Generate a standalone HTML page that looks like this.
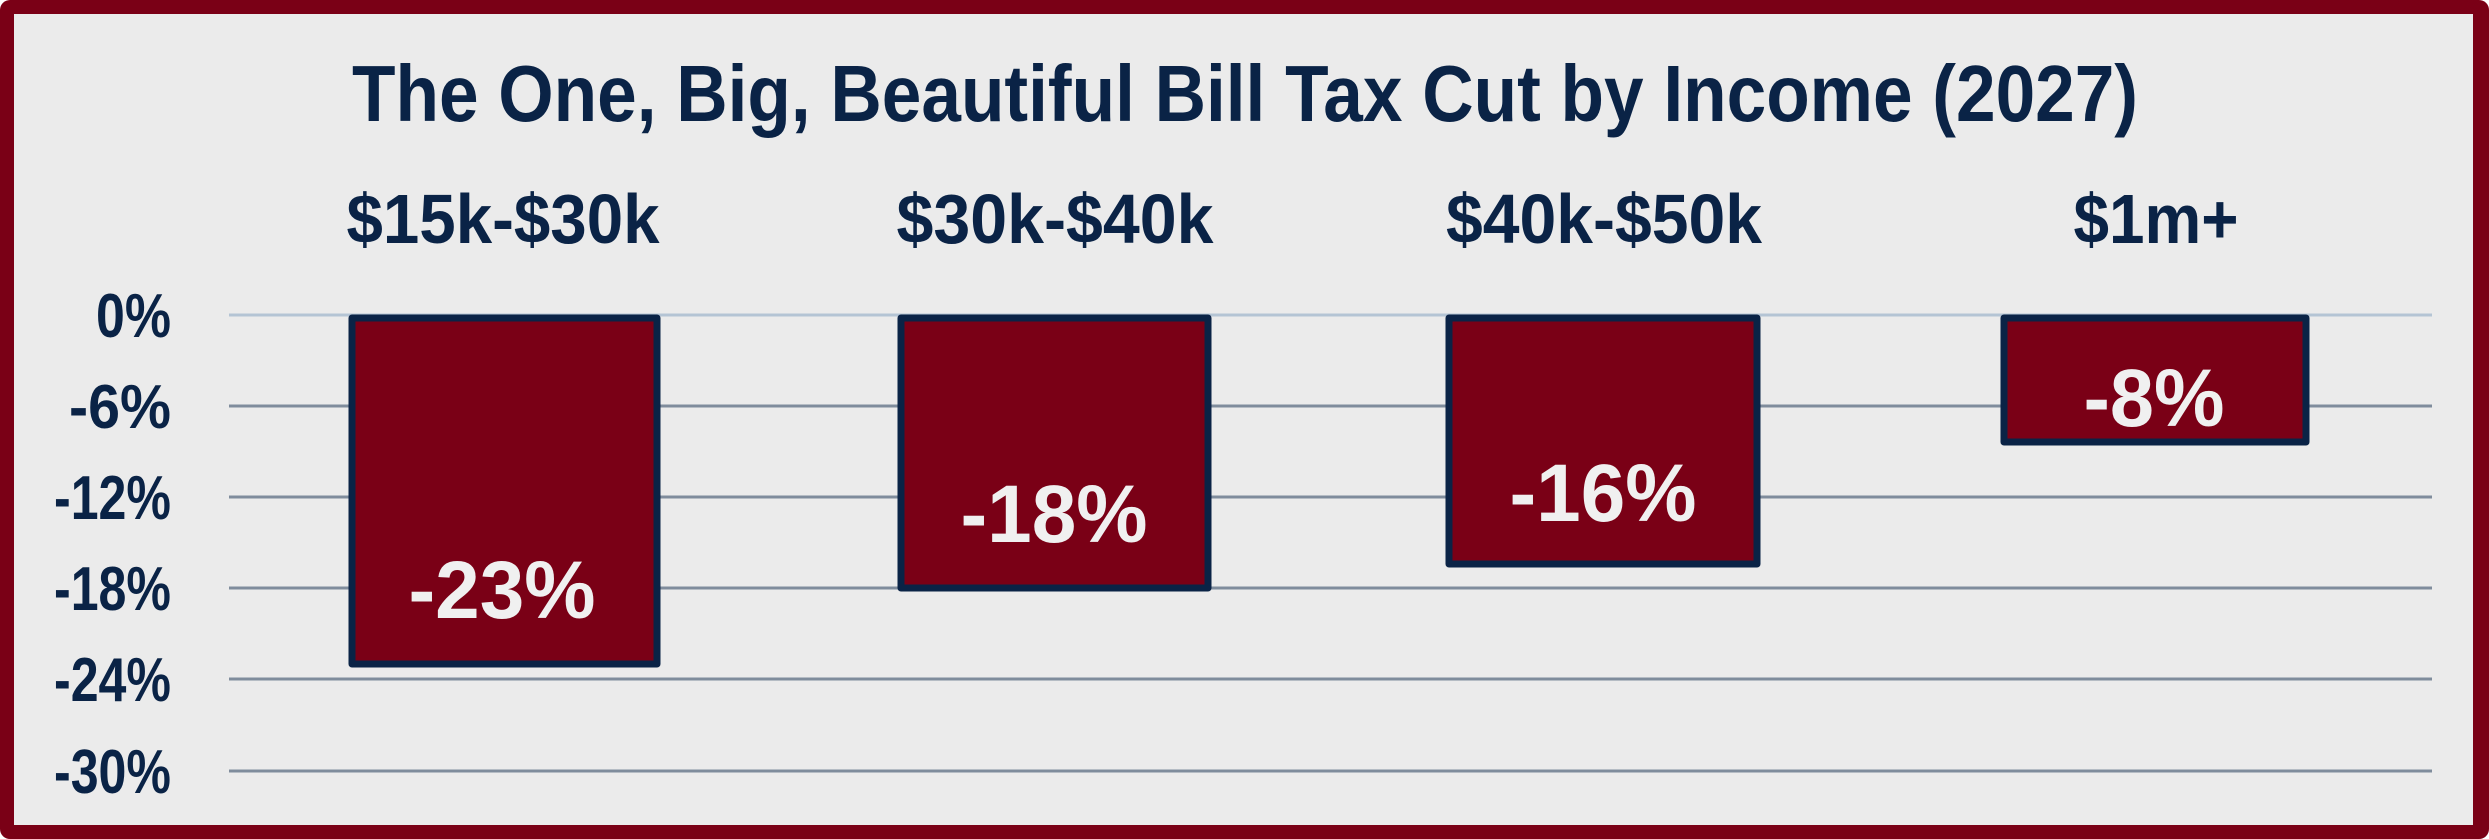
<!DOCTYPE html>
<html><head><meta charset="utf-8"><style>
html,body{margin:0;padding:0;background:#fff;}
svg{display:block;}
text{font-family:"Liberation Sans",sans-serif;font-weight:bold;}
</style></head><body>
<svg width="2489" height="839" viewBox="0 0 2489 839" xmlns="http://www.w3.org/2000/svg">
<rect x="0" y="0" width="2489" height="839" rx="10" fill="#7a0016"/>
<rect x="14" y="14" width="2459" height="811" fill="#ebebeb"/>
<text x="1245" y="121" font-size="80" fill="#0a2346" text-anchor="middle" textLength="1786" lengthAdjust="spacingAndGlyphs">The One, Big, Beautiful Bill Tax Cut by Income (2027)</text>
<g font-size="70" fill="#0a2346" text-anchor="middle">
<text x="503" y="243" textLength="313" lengthAdjust="spacingAndGlyphs">$15k-$30k</text>
<text x="1055" y="243" textLength="317" lengthAdjust="spacingAndGlyphs">$30k-$40k</text>
<text x="1604" y="243" textLength="316" lengthAdjust="spacingAndGlyphs">$40k-$50k</text>
<text x="2156" y="243" textLength="165" lengthAdjust="spacingAndGlyphs">$1m+</text>
</g>
<g stroke-width="3">
<line x1="229" y1="315" x2="2432" y2="315" stroke="#b4c4d4"/>
<line x1="229" y1="406" x2="2432" y2="406" stroke="#7f8c9c"/>
<line x1="229" y1="497" x2="2432" y2="497" stroke="#7f8c9c"/>
<line x1="229" y1="588" x2="2432" y2="588" stroke="#7f8c9c"/>
<line x1="229" y1="679" x2="2432" y2="679" stroke="#7f8c9c"/>
<line x1="229" y1="771" x2="2432" y2="771" stroke="#7f8c9c"/>
</g>
<g font-size="62" fill="#0a2346" text-anchor="end">
<text x="171" y="337" textLength="75" lengthAdjust="spacingAndGlyphs">0%</text>
<text x="171" y="428" textLength="102" lengthAdjust="spacingAndGlyphs">-6%</text>
<text x="171" y="519" textLength="117" lengthAdjust="spacingAndGlyphs">-12%</text>
<text x="171" y="610" textLength="117" lengthAdjust="spacingAndGlyphs">-18%</text>
<text x="171" y="701" textLength="117" lengthAdjust="spacingAndGlyphs">-24%</text>
<text x="171" y="793" textLength="117" lengthAdjust="spacingAndGlyphs">-30%</text>
</g>
<g fill="#7a0016" stroke="#0a2346" stroke-width="7" stroke-linejoin="round">
<rect x="352" y="318" width="305" height="346"/>
<rect x="901" y="318" width="307" height="270"/>
<rect x="1449" y="318" width="308" height="246"/>
<rect x="2004" y="318" width="302" height="124"/>
</g>
<g font-size="82" fill="#f0f0f0" text-anchor="middle">
<text x="502" y="618" textLength="187" lengthAdjust="spacingAndGlyphs">-23%</text>
<text x="1054" y="542" textLength="187" lengthAdjust="spacingAndGlyphs">-18%</text>
<text x="1603" y="521" textLength="187" lengthAdjust="spacingAndGlyphs">-16%</text>
<text x="2154" y="426" textLength="141" lengthAdjust="spacingAndGlyphs">-8%</text>
</g>
</svg>
</body></html>
